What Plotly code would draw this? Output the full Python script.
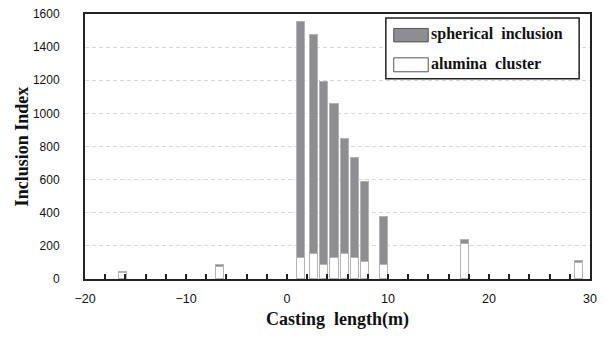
import plotly.graph_objects as go

# Data
casting_length = [-16.2, -6.6, 1.4, 2.7, 3.7, 4.7, 5.7, 6.7, 7.7, 9.6, 17.6, 28.9]
alumina_cluster = [34, 72, 126, 152, 86, 126, 152, 126, 102, 86, 212, 94]
spherical_inclusion = [10, 12, 1426, 1320, 1102, 930, 696, 606, 486, 290, 24, 12]
x_ticks = [-20, -10, 0, 10, 20, 30]
y_ticks = [0, 200, 400, 600, 800, 1000, 1200, 1400, 1600]

W, H = 604, 339
ML, MR, MT, MB = 85, 7, 13, 60
PW, PH = W - ML - MR, H - MT - MB

def px(x):
    return (x - ML) / PW

def py(y):
    return (H - MB - y) / PH

GRAY = "#8d8d92"
EDGE = "#b4b4b4"
SERIF = "Liberation Serif"

fig = go.Figure()
fig.add_trace(go.Bar(x=casting_length, y=alumina_cluster, width=0.8,
                     marker=dict(color="white", line=dict(color=EDGE, width=1)),
                     name="alumina cluster", showlegend=False))
fig.add_trace(go.Bar(x=casting_length, y=spherical_inclusion, width=0.8,
                     marker=dict(color=GRAY, line=dict(color=EDGE, width=1)),
                     name="spherical inclusion", showlegend=False))

# custom legend (wide swatches like the original)
shapes = [
    dict(type="rect", xref="paper", yref="paper", x0=px(390), x1=px(586), y0=py(78), y1=py(17),
         line=dict(color="#222", width=1.5), fillcolor="white", layer="above"),
    dict(type="rect", xref="paper", yref="paper", x0=px(398), x1=px(433), y0=py(41), y1=py(27.5),
         line=dict(color="#555", width=1), fillcolor=GRAY, layer="above"),
    dict(type="rect", xref="paper", yref="paper", x0=px(398), x1=px(433), y0=py(71), y1=py(57),
         line=dict(color="#555", width=1), fillcolor="white", layer="above"),
]
annotations = [
    dict(xref="paper", yref="paper", x=px(434), y=py(33), text="spherical&nbsp;&nbsp;inclusion",
         showarrow=False, xanchor="left", yanchor="middle",
         font=dict(family=SERIF, size=16, color="#111", weight="bold")),
    dict(xref="paper", yref="paper", x=px(434), y=py(63), text="alumina&nbsp;&nbsp;cluster",
         showarrow=False, xanchor="left", yanchor="middle",
         font=dict(family=SERIF, size=16, color="#111", weight="bold")),
    dict(xref="paper", yref="paper", x=px(21), y=0.5, text="Inclusion Index",
         showarrow=False, xanchor="center", yanchor="middle", textangle=-90,
         font=dict(family=SERIF, size=18, color="#111", weight="bold")),
]

fig.update_layout(
    width=W, height=H,
    margin=dict(l=ML, r=MR, t=MT, b=MB, pad=0),
    barmode="stack",
    bargap=0,
    plot_bgcolor="white", paper_bgcolor="white",
    shapes=shapes, annotations=annotations,
    showlegend=False,
)
fig.update_xaxes(
    range=[-20, 30], tickvals=x_ticks,
    ticks="inside", ticklen=5, tickwidth=1.5, tickcolor="#222",
    minor=dict(dtick=2, tick0=0, ticks="inside", ticklen=5, tickwidth=1.5, tickcolor="#222", showgrid=False),
    showline=True, linecolor="#222", linewidth=2, mirror=True,
    showgrid=False, zeroline=False,
    ticklabelstandoff=7,
    tickfont=dict(family="Liberation Sans", size=12.5, color="#111"),
    title=dict(text="Casting&nbsp;&nbsp;length(m)", standoff=7,
               font=dict(family=SERIF, size=18, color="#111", weight="bold")),
)
fig.update_yaxes(
    range=[0, 1600], tickvals=y_ticks,
    ticks="", showline=True, linecolor="#222", linewidth=2, mirror=True,
    showgrid=True, gridcolor="#d8d8d8", griddash="4px,3px", gridwidth=1,
    zeroline=False,
    ticklabelstandoff=21,
    tickfont=dict(family="Liberation Sans", size=12, color="#111"),
)

fig.write_html("out.html")
